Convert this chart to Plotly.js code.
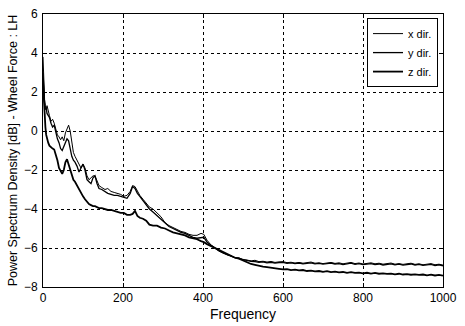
<!DOCTYPE html>
<html><head><meta charset="utf-8">
<script src="https://cdn.plot.ly/plotly-3.0.1.min.js"></script>
<style>html,body{margin:0;padding:0;background:#fff}#chart{width:465px;height:326px}</style>
</head><body><div id="chart"></div>
<script>
const freqLow = [0,2,4,6,8,10,13,16,20,24,28,32,36,40,44,48,52,56,60,64,68,72,76,80,85,90,95,100,105,110,115,120,125,130,135,140,147,155,162,170,178,186,194,202,210,218,224,230,236,242,250,258,266,275,285,295,305,315,325,335,345,355,365,375,385,395,402,410,420,430,440,450,460,470,480,490,500];
const freqHigh = [510,520,530,540,550,560,570,580,590,600,610,620,630,640,650,660,670,680,690,700,710,720,730,740,750,760,770,780,790,800,810,820,830,840,850,860,870,880,890,900,910,920,930,940,950,960,970,980,990,1000];

const xLow = [3.8,2.4,1.6,1.3,1.1,1.3,1.0,0.8,0.5,0.6,0.4,0.1,-0.2,-0.3,-0.45,-0.3,-0.5,-0.1,0.1,0.3,0.0,
  -0.6,-1.1,-1.3,-1.5,-1.7,-1.9,-1.7,-1.9,-2.3,-2.5,-2.4,-2.3,-2.3,-2.6,-2.8,
  -2.9,-3.0,-2.95,-3.1,-3.15,-3.2,-3.25,-3.35,-3.3,-3.1,
  -2.8,-2.85,-3.1,-3.3,-3.5,-3.7,-3.9,-4.0,-4.2,-4.4,
  -4.7,-4.85,-4.95,-5.05,-5.15,-5.2,-5.3,-5.35,-5.35,-5.25,
  -5.3,-5.6,-5.85,-6.0,-6.15,-6.25,-6.35,-6.4,-6.5,-6.5,-6.6];
const yLow = [3.0,2.0,1.4,1.1,1.2,0.9,0.8,0.7,0.4,0.2,0.3,-0.1,-0.4,-0.6,-0.9,-1.0,-0.8,-0.6,-0.4,-0.5,-0.9,
  -1.3,-1.5,-1.6,-1.8,-2.1,-1.9,-1.7,-2.0,-2.5,-2.6,-2.7,-2.4,-2.3,-2.7,-2.95,
  -3.0,-3.1,-3.2,-3.25,-3.3,-3.3,-3.35,-3.4,-3.45,-3.2,
  -2.85,-2.95,-3.2,-3.35,-3.55,-3.75,-4.0,-4.15,-4.35,-4.55,
  -4.75,-4.9,-5.0,-5.1,-5.2,-5.25,-5.35,-5.45,-5.5,-5.45,
  -5.45,-5.7,-5.85,-6.0,-6.15,-6.25,-6.35,-6.42,-6.5,-6.55,-6.62];
const zLow = [2.5,1.5,0.6,0.2,-0.2,-0.4,-0.6,-0.75,-0.85,-0.9,-0.95,-1.2,-1.5,-1.9,-2.1,-2.2,-2.0,-1.6,-1.45,-1.7,-2.0,
  -2.3,-2.5,-2.6,-2.8,-3.0,-3.2,-3.35,-3.5,-3.65,-3.75,-3.8,-3.85,-3.85,-3.9,-3.95,
  -3.95,-4.0,-4.05,-4.05,-4.1,-4.15,-4.2,-4.2,-4.3,-4.3,
  -4.25,-4.1,-4.35,-4.45,-4.5,-4.6,-4.8,-4.85,-4.85,-4.95,
  -5.0,-5.1,-5.2,-5.25,-5.3,-5.35,-5.45,-5.5,-5.55,-5.65,
  -5.7,-5.8,-5.9,-6.0,-6.1,-6.2,-6.3,-6.4,-6.5,-6.55,-6.65];

const xHigh = [-6.62,-6.66,-6.63,-6.70,-6.68,-6.72,-6.69,-6.74,-6.71,-6.70,-6.75,-6.73,-6.77,-6.74,-6.78,-6.75,-6.72,-6.78,-6.76,-6.80,-6.77,-6.74,-6.79,-6.76,-6.81,-6.78,-6.74,-6.80,-6.77,-6.82,-6.79,-6.76,-6.81,-6.78,-6.83,-6.80,-6.77,-6.83,-6.80,-6.84,-6.81,-6.78,-6.84,-6.81,-6.86,-6.82,-6.80,-6.86,-6.83,-6.88];
const yHigh = [-6.66,-6.69,-6.70,-6.73,-6.71,-6.76,-6.73,-6.77,-6.75,-6.74,-6.79,-6.76,-6.80,-6.77,-6.81,-6.79,-6.76,-6.81,-6.79,-6.83,-6.80,-6.78,-6.82,-6.80,-6.85,-6.81,-6.78,-6.84,-6.80,-6.85,-6.82,-6.80,-6.85,-6.82,-6.87,-6.83,-6.81,-6.86,-6.83,-6.88,-6.85,-6.82,-6.87,-6.84,-6.89,-6.86,-6.84,-6.90,-6.86,-6.91];
const zHigh = [-6.75,-6.82,-6.86,-6.92,-6.95,-6.98,-7.02,-7.05,-7.07,-7.10,-7.08,-7.13,-7.11,-7.15,-7.13,-7.18,-7.16,-7.20,-7.18,-7.22,-7.19,-7.24,-7.21,-7.25,-7.23,-7.27,-7.24,-7.28,-7.26,-7.30,-7.27,-7.31,-7.28,-7.32,-7.30,-7.33,-7.31,-7.35,-7.32,-7.36,-7.34,-7.37,-7.35,-7.38,-7.36,-7.40,-7.37,-7.41,-7.38,-7.42];

const seriesNames = ['x dir.','y dir.','z dir.'];
const freq = freqLow.concat(freqHigh);
const series = [xLow.concat(xHigh), yLow.concat(yHigh), zLow.concat(zHigh)];
const widths = [1, 1.3, 1.8];

const traces = series.map((v,i)=>({
  x: freq, y: v, type:'scatter', mode:'lines', name: seriesNames[i],
  line:{color:'#000', width:widths[i]}
}));

const fam = '"Liberation Sans", Arial, sans-serif';
const font = {family:fam, color:'#000', size:12};
const axisCommon = {
  showline:true, mirror:'ticks', linecolor:'#000', linewidth:1,
  ticks:'inside', ticklen:4, tickcolor:'#000',
  showgrid:true, gridcolor:'#000', griddash:'dot', gridwidth:1,
  zeroline:false, tickfont:font
};
const layout = {
  width:465, height:326,
  margin:{l:43, r:22, t:14, b:39},
  paper_bgcolor:'#fff', plot_bgcolor:'#fff',
  font: font,
  showlegend:true,
  legend:{x:0.9875, y:0.985, xanchor:'right', yanchor:'top',
    bgcolor:'#fff', bordercolor:'#000', borderwidth:1,
    font:{family:fam, size:11, color:'#000'},
    itemwidth:30, tracegroupgap:0},
  xaxis: Object.assign({}, axisCommon, {range:[0,1000], tickvals:[0,200,400,600,800,1000],
    title:{text:'Frequency', font:{family:fam, size:14, color:'#000'}, standoff:4}}),
  yaxis: Object.assign({}, axisCommon, {range:[-8,6], tickvals:[-8,-6,-4,-2,0,2,4,6],
    ticklabelstandoff:2,
    title:{text:'Power Spectrum Density [dB] - Wheel Force : LH', font:{family:fam, size:12.5, color:'#000'}, standoff:3}})
};
Plotly.newPlot('chart', traces, layout, {displayModeBar:false, staticPlot:true});
</script></body></html>
